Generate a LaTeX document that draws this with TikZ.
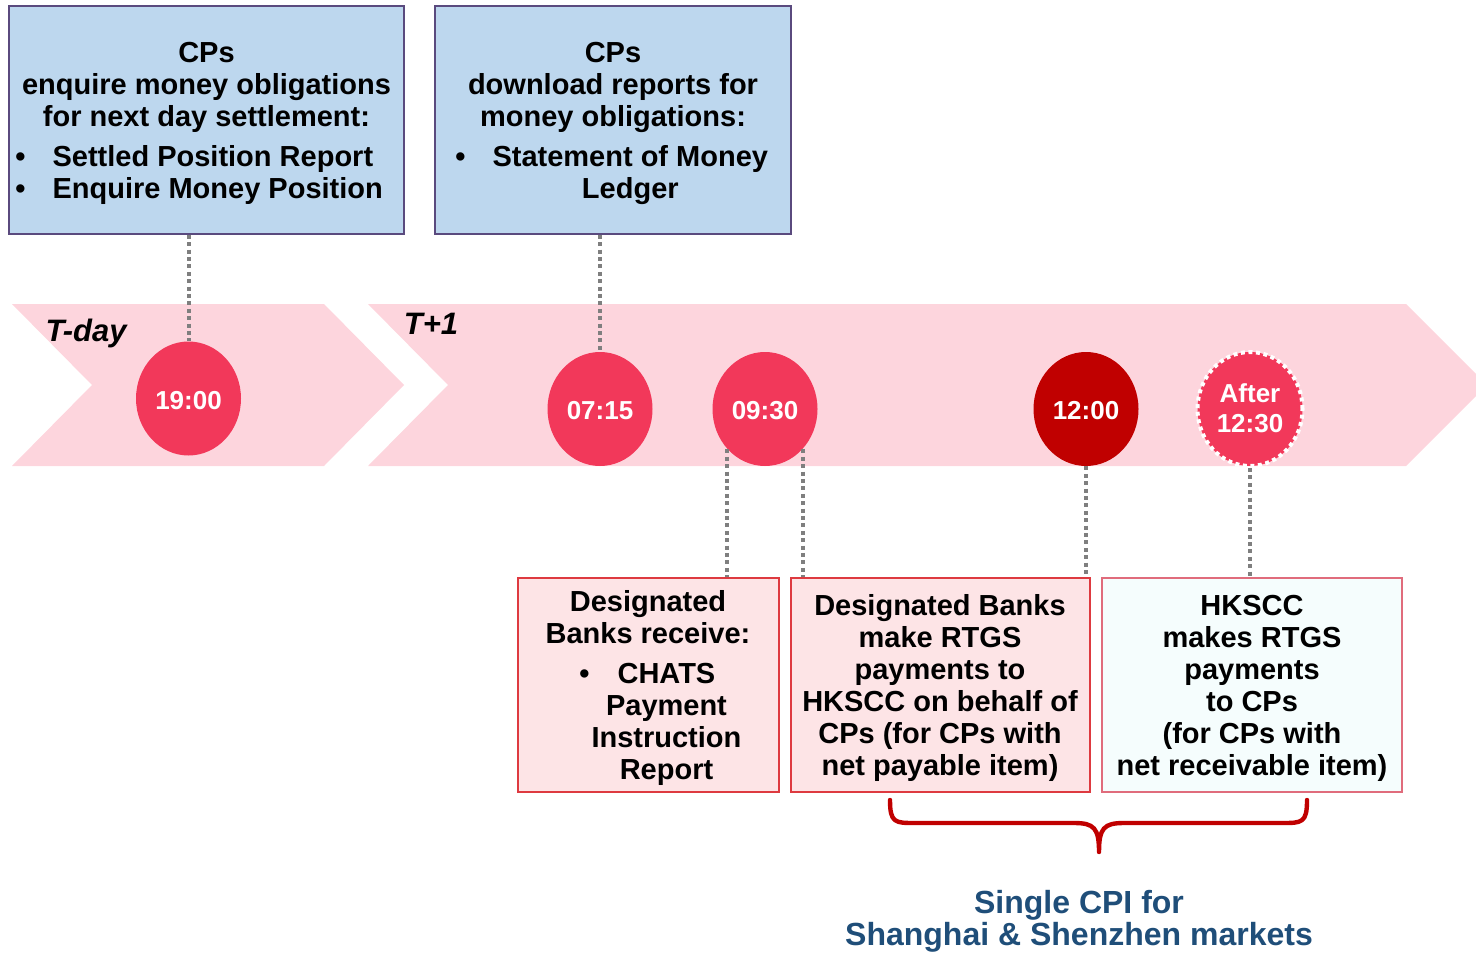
\documentclass[tikz,border=0pt]{standalone}
\usepackage{fontspec}
\setmainfont{Liberation Sans}
\usetikzlibrary{shapes.geometric}
\definecolor{boxblue}{HTML}{BDD7EE}
\definecolor{boxblueline}{HTML}{5A4A7E}
\definecolor{bandpink}{HTML}{FDD5DD}
\definecolor{circred}{HTML}{F2385A}
\definecolor{darkred}{HTML}{C00000}
\definecolor{pinkfill}{HTML}{FDE4E6}
\definecolor{pinkline}{HTML}{DE3A40}
\definecolor{cyanfill}{HTML}{F5FDFD}
\definecolor{cyanline}{HTML}{E06C7C}
\definecolor{navy}{HTML}{1F4E79}
\definecolor{dotgray}{HTML}{7F7F7F}
\newcommand{\lowtxt}[1]{\raisebox{-1pt}[\height][\depth]{#1}}
\begin{document}
\begin{tikzpicture}[x=0.5pt,y=-0.5pt,
  txt/.style={font=\bfseries\fontsize{14.5}{16}\selectfont, align=center, inner sep=0pt},
  bluebox/.style={draw=boxblueline, line width=0.75pt, fill=boxblue, inner sep=0pt, minimum height=114pt},
  pinkbox/.style={draw=pinkline, line width=0.9pt, fill=pinkfill, inner sep=0pt, minimum height=107pt},
  cyanbox/.style={draw=cyanline, line width=0.9pt, fill=cyanfill, inner sep=0pt, minimum height=107pt},
  timecirc/.style={ellipse, fill=circred, text=white, inner sep=0pt, minimum width=52.5pt, minimum height=57pt,
     font=\bfseries\fontsize{13}{15.5}\selectfont, align=center},
  conn/.style={draw=dotgray, line width=2pt, dash pattern=on 2pt off 1.7pt},
  daylabel/.style={font=\bfseries\itshape\fontsize{15.5}{18}\selectfont, inner sep=0pt}]
\useasboundingbox (0,0) rectangle (1476,952);
% timeline bands
\fill[bandpink] (12,304) -- (324,304) -- (404,385) -- (324,466) -- (12,466) -- (92,385) -- cycle;
\fill[bandpink] (368,304) -- (1406,304) -- (1476,374) -- (1476,396) -- (1406,466) -- (368,466) -- (448,385) -- cycle;
\node[daylabel] (tday) at (86,333) {T-day};
\node[daylabel] (tone) at (431,324) {T+1};
% top boxes
\node[bluebox, minimum width=197.5pt] (b1) at (206.5,120) {};
\node[bluebox, minimum width=178pt] (b2) at (613,120) {};
\node[txt] (b1h) at (206.5,87) {CPs\\enquire money obligations\\for next day settlement:};
\node[txt, anchor=west] (b1l) at (15,176) {\begin{tabular}{@{}l@{\hspace{13.5pt}}l@{}}•&Settled Position Report\\•&Enquire Money Position\end{tabular}};
\node[txt] (b2h) at (613,87) {CPs\\download reports for\\money obligations:};
\node[txt, anchor=west] (b2l) at (455,176) {\begin{tabular}{@{}l@{\hspace{13.5pt}}c@{}}•&Statement of Money\\&Ledger\end{tabular}};
% circles
\node[timecirc] (c1) at (188.5,398.5) {\lowtxt{19:00}};
\node[timecirc] (c2) at (600,409) {\lowtxt{07:15}};
\node[timecirc] (c3) at (765,409) {\lowtxt{09:30}};
\node[timecirc, fill=darkred] (c4) at (1086,409) {\lowtxt{12:00}};
\node[timecirc, draw=white, line width=2pt, dash pattern=on 2pt off 1.8pt] (c5) at (1250,409) {\lowtxt{\begin{tabular}{@{}c@{}}After\\[-0.5pt]12:30\end{tabular}}};
% bottom boxes
\node[pinkbox, minimum width=130.5pt] (b3) at (648.5,685) {};
\node[pinkbox, minimum width=149.5pt] (b4) at (940.5,685) {};
\node[cyanbox, minimum width=150pt] (b5) at (1252,685) {};
\node[txt] (b3h) at (648,617) {Designated\\Banks receive:};
\node[txt, anchor=west] (b3l) at (579,725) {\begin{tabular}{@{}l@{\hspace{1pt}}c@{}}•&CHATS\\&Payment\\&Instruction\\&Report\end{tabular}};
\node[txt] (b4t) at (940,688) {Designated Banks\\make RTGS\\payments to\\HKSCC on behalf of\\CPs (for CPs with\\net payable item)};
\node[txt] (b5t) at (1252,688) {HKSCC\\makes RTGS\\payments\\to CPs\\(for CPs with\\net receivable item)};
% connectors
\draw[conn] (c1.north |- b1.south) -- (c1.north);
\draw[conn] (c2.north |- b2.south) -- (c2.north);
\draw[conn] (c3.227) -- (c3.227 |- b3.north);
\draw[conn] (c3.313) -- (c3.313 |- b4.north);
\draw[conn] (c4.south) -- (c4.south |- b4.north);
\draw[conn] (c5.south) -- (c5.south |- b5.north);
% brace
\coordinate (brl) at (890,800);
\coordinate (brr) at (1307,800);
\coordinate (brt) at (1099,852);
\draw[darkred, line width=2.2pt, line cap=round, line join=round]
  (brl) .. controls (890,823) and (895,823) .. (915,823) -- (1074,823)
  .. controls (1094,823) and (1099,828) .. (brt)
  .. controls (1099,828) and (1104,823) .. (1124,823) -- (1282,823)
  .. controls (1302,823) and (1307,823) .. (brr);
\node[txt, text=navy, font=\bfseries\fontsize{16}{16}\selectfont] (cpi) at (1079,921) {Single CPI for\\Shanghai \& Shenzhen markets};
\end{tikzpicture}
\end{document}
